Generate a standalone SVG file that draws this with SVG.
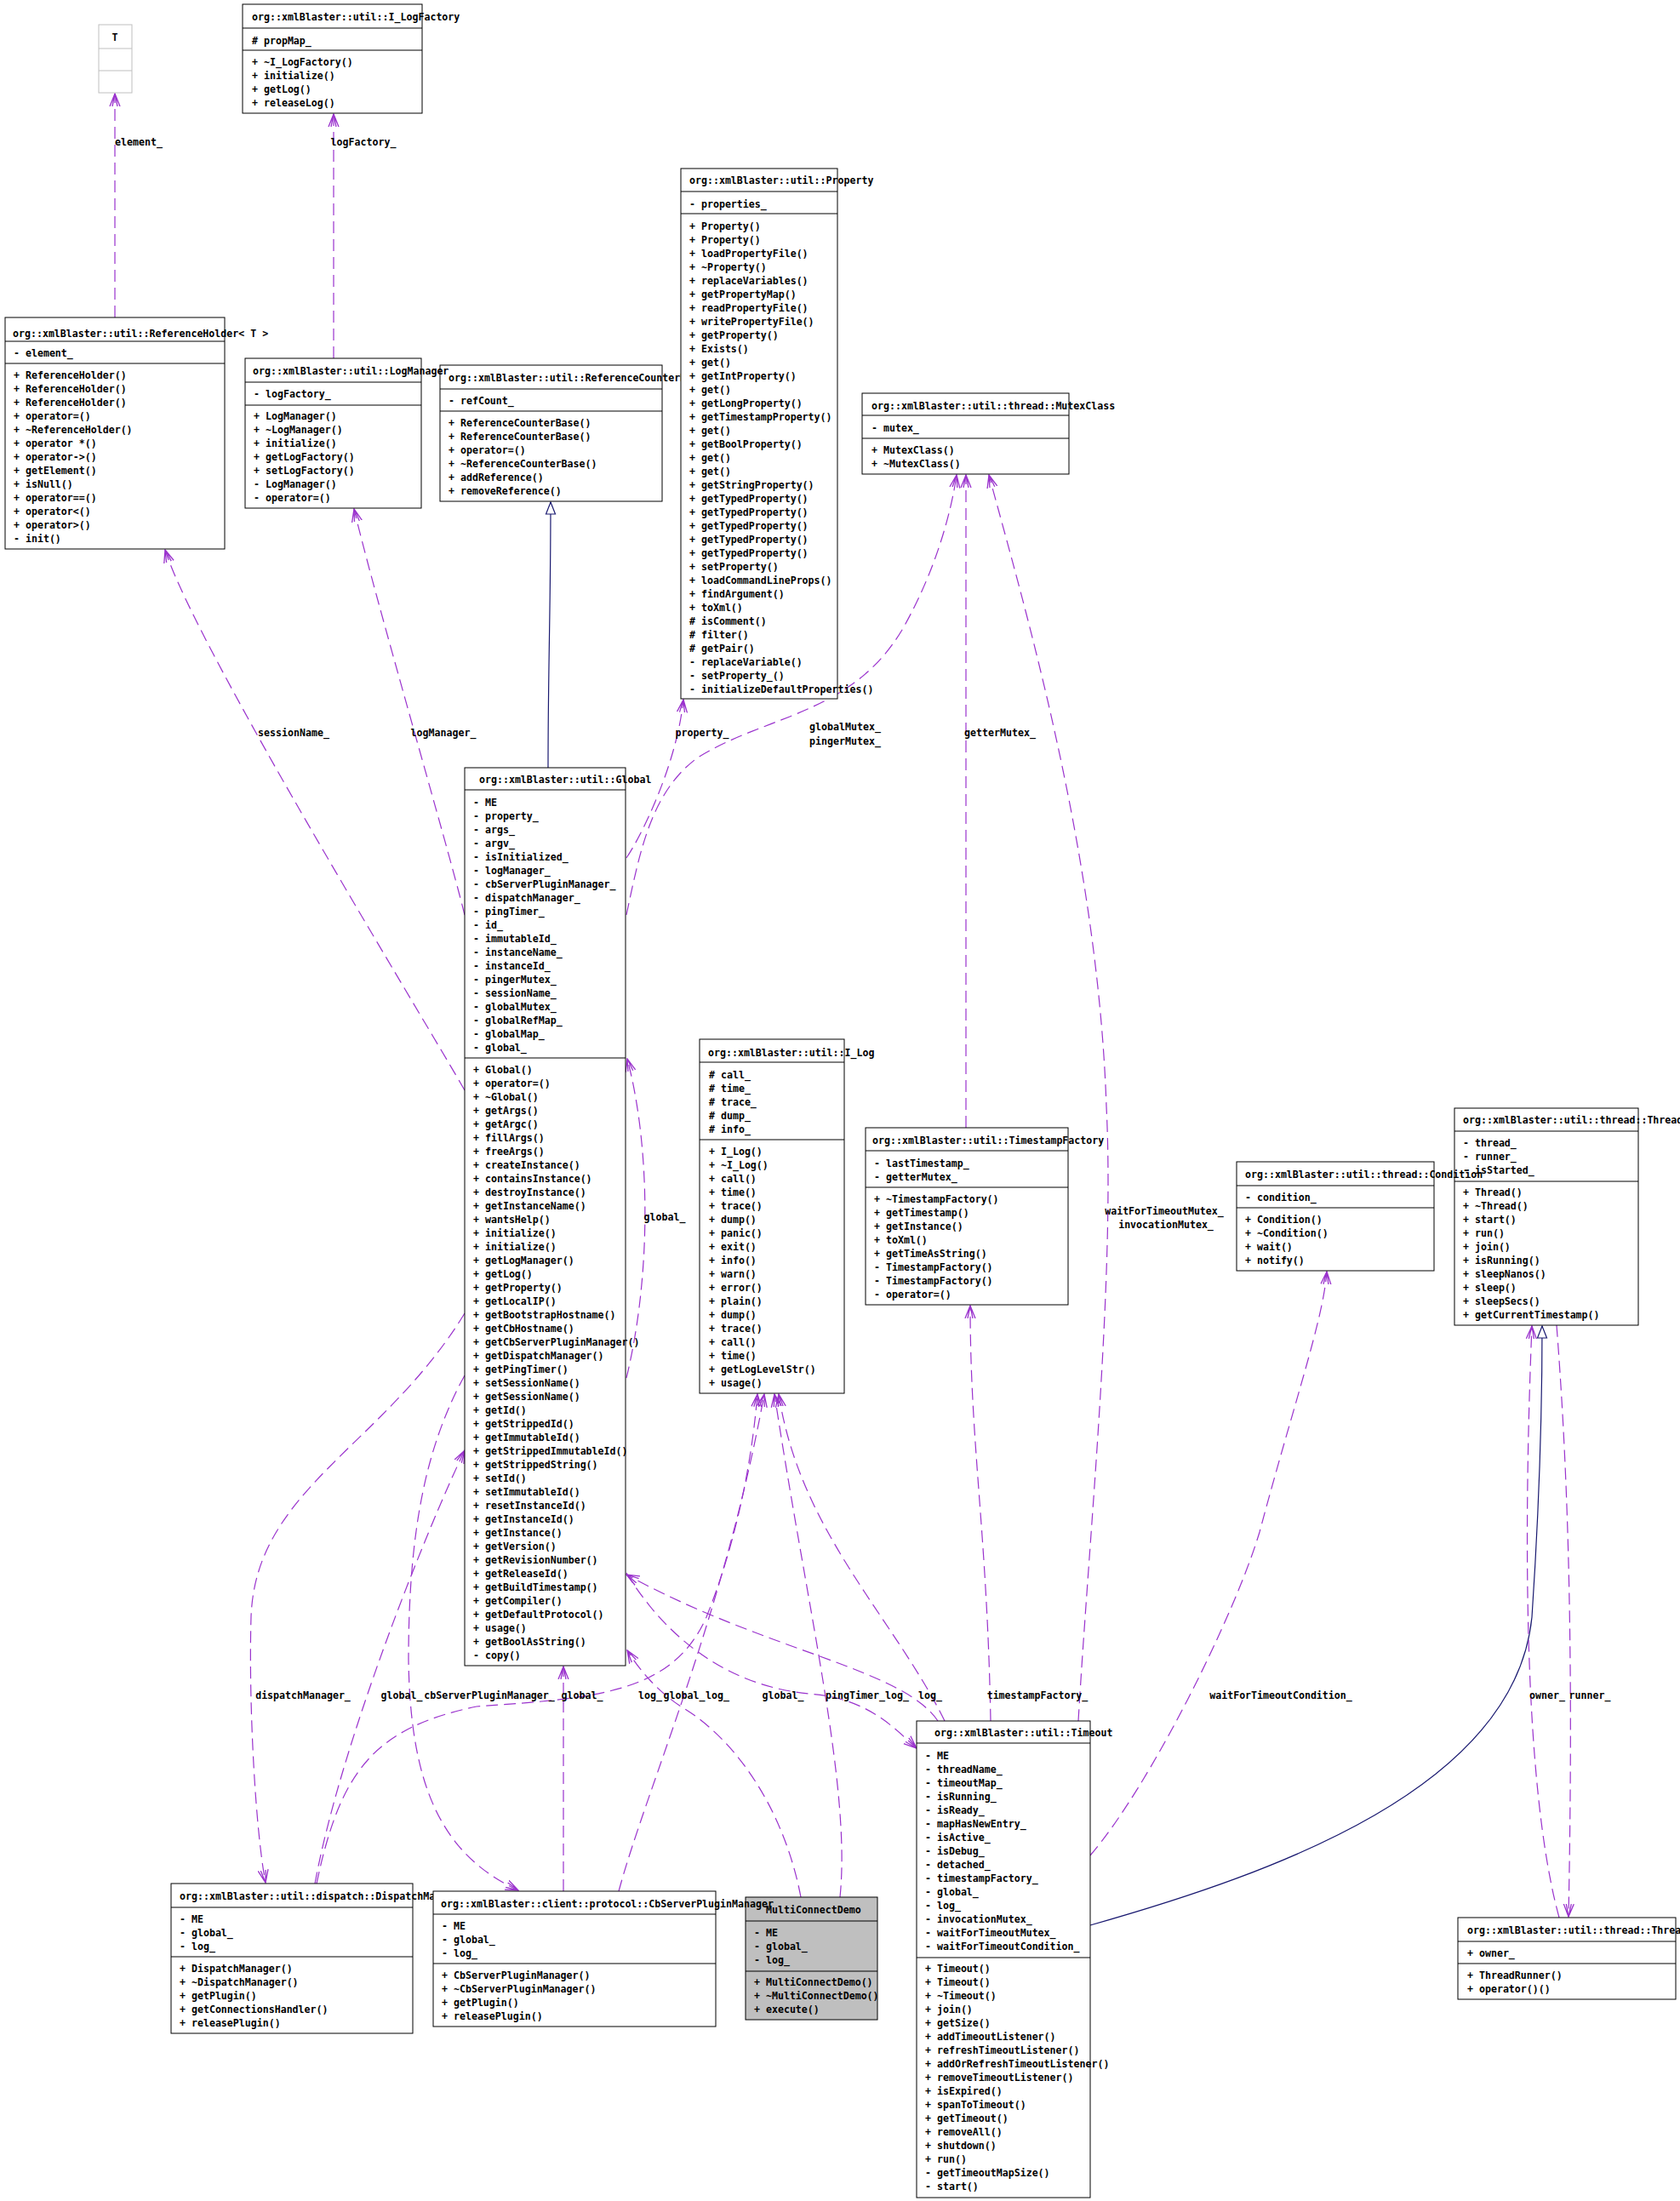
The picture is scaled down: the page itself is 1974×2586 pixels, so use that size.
<svg xmlns="http://www.w3.org/2000/svg" width="1974" height="2586" viewBox="0 0 1974 2586">
<style>
.bx{fill:#fff;stroke:#000;stroke-width:1}
.gy{fill:#bfbfbf;stroke:#000;stroke-width:1}
.ln{stroke:#000;stroke-width:1}
.t{font-family:"DejaVu Sans Mono","Liberation Mono",monospace;font-size:11.6px;font-weight:bold;fill:#000}
.lb{font-family:"DejaVu Sans Mono","Liberation Mono",monospace;font-size:11.6px;font-weight:bold;fill:#000;text-anchor:middle}
.e{fill:none;stroke:#9a32cd;stroke-width:1.2;stroke-dasharray:14,7;marker-end:url(#a)}
.i{fill:none;stroke:#191970;stroke-width:1.2;marker-end:url(#h)}
</style>
<defs>
<marker id="a" markerUnits="userSpaceOnUse" markerWidth="16" markerHeight="14" viewBox="0 0 16 14" refX="15" refY="7" orient="auto">
<path d="M0,1 L15,7 L0,13 M0,4 L15,7 L0,10" fill="none" stroke="#9a32cd" stroke-width="1.3"/>
</marker>
<marker id="h" markerUnits="userSpaceOnUse" markerWidth="16" markerHeight="14" viewBox="0 0 16 14" refX="15" refY="7" orient="auto">
<path d="M1,1.5 L15,7 L1,12.5 Z" fill="#fff" stroke="#191970" stroke-width="1.2"/>
</marker>
</defs>
<rect width="1974" height="2586" fill="#fff"/>

<g id="connectors">
<path class="e" d="M135,373 L135,110"/>
<path class="e" d="M392,421 L392,134"/>
<path class="i" d="M644,902 C644,780 647,720 647,590"/>
<path class="e" d="M546,1281 C500,1200 230,760 194,646"/>
<path class="e" d="M546,1075 C525,990 440,700 416,598"/>
<path class="e" d="M736,1008 C752,985 795,900 803,822"/>
<path class="e" d="M736,1075 C752,1000 765,930 820,890 C900,840 1000,840 1060,740 C1100,670 1118,600 1124,558"/>
<path class="e" d="M1135,1325 L1135,558"/>
<path class="e" d="M1267,2022 C1280,1800 1310,1500 1300,1300 C1290,1000 1200,700 1162,558"/>
<path class="e" d="M736,1619 C765,1500 765,1350 737,1244"/>
<path class="e" d="M546,1543 C450,1700 300,1750 295,1900 C292,2000 300,2150 312,2212"/>
<path class="e" d="M370,2213 C400,2050 500,1800 546,1704"/>
<path class="e" d="M546,1616 C500,1700 480,1800 480,1950 C482,2100 520,2180 609,2221"/>
<path class="e" d="M662,2222 L662,1958"/>
<path class="e" d="M372,2213 C400,2080 440,2030 560,2005 C700,1995 790,1990 830,1900 C870,1800 885,1700 890,1638"/>
<path class="e" d="M727,2222 C760,2100 850,1900 898,1638"/>
<path class="e" d="M941,2229 C920,2120 860,2040 800,2005 C770,1985 750,1960 737,1939"/>
<path class="e" d="M987,2229 C1000,2100 950,1900 910,1638"/>
<path class="e" d="M736,1848 C780,1920 850,1980 950,1990 C1020,1995 1050,2030 1077,2054"/>
<path class="e" d="M1102,2022 C1060,1960 900,1940 736,1850"/>
<path class="e" d="M1110,2022 C1050,1900 940,1800 915,1638"/>
<path class="e" d="M1164,2022 C1160,1800 1140,1700 1140,1534"/>
<path class="e" d="M1281,2180 C1350,2100 1450,1900 1480,1800 C1520,1650 1555,1550 1559,1494"/>
<path class="i" d="M1281,2262 C1500,2200 1780,2100 1800,1900 C1810,1750 1812,1650 1812,1558"/>
<path class="e" d="M1829,1557 C1840,1700 1850,1900 1843,2252"/>
<path class="e" d="M1832,2253 C1790,2100 1790,1800 1800,1558"/>
</g>

<g id="T">
<rect x="116" y="29" width="39" height="80" fill="#fff" stroke="#bfbfbf"/>
<line x1="116" y1="57" x2="155" y2="57" stroke="#bfbfbf"/>
<line x1="116" y1="83" x2="155" y2="83" stroke="#bfbfbf"/>
<text class="lb" x="135" y="48">T</text>
</g>

<g id="I_LogFactory">
<rect class="bx" x="285" y="5" width="211" height="128"/>
<line class="ln" x1="285" y1="33" x2="496" y2="33"/>
<line class="ln" x1="285" y1="59" x2="496" y2="59"/>
<text class="t" x="296" y="24">org::xmlBlaster::util::I_LogFactory</text>
<text class="t" x="296" y="52"># propMap_</text>
<text class="t" y="77"><tspan x="296">+ ~I_LogFactory()</tspan><tspan x="296" dy="16">+ initialize()</tspan><tspan x="296" dy="16">+ getLog()</tspan><tspan x="296" dy="16">+ releaseLog()</tspan></text>
</g>

<g id="ReferenceHolder">
<rect class="bx" x="6" y="373" width="258" height="272"/>
<line class="ln" x1="6" y1="401" x2="264" y2="401"/>
<line class="ln" x1="6" y1="427" x2="264" y2="427"/>
<text class="t" x="15" y="396">org::xmlBlaster::util::ReferenceHolder&lt; T &gt;</text>
<text class="t" x="16" y="419">- element_</text>
<text class="t" y="445"><tspan x="16">+ ReferenceHolder()</tspan><tspan x="16" dy="16">+ ReferenceHolder()</tspan><tspan x="16" dy="16">+ ReferenceHolder()</tspan><tspan x="16" dy="16">+ operator=()</tspan><tspan x="16" dy="16">+ ~ReferenceHolder()</tspan><tspan x="16" dy="16">+ operator *()</tspan><tspan x="16" dy="16">+ operator-&gt;()</tspan><tspan x="16" dy="16">+ getElement()</tspan><tspan x="16" dy="16">+ isNull()</tspan><tspan x="16" dy="16">+ operator==()</tspan><tspan x="16" dy="16">+ operator&lt;()</tspan><tspan x="16" dy="16">+ operator&gt;()</tspan><tspan x="16" dy="16">- init()</tspan></text>
</g>

<g id="ReferenceCounterBase">
<rect class="bx" x="517" y="429" width="261" height="160"/>
<line class="ln" x1="517" y1="457" x2="778" y2="457"/>
<line class="ln" x1="517" y1="483" x2="778" y2="483"/>
<text class="t" x="527" y="448">org::xmlBlaster::util::ReferenceCounterBase</text>
<text class="t" x="527" y="475">- refCount_</text>
<text class="t" y="501"><tspan x="527">+ ReferenceCounterBase()</tspan><tspan x="527" dy="16">+ ReferenceCounterBase()</tspan><tspan x="527" dy="16">+ operator=()</tspan><tspan x="527" dy="16">+ ~ReferenceCounterBase()</tspan><tspan x="527" dy="16">+ addReference()</tspan><tspan x="527" dy="16">+ removeReference()</tspan></text>
</g>

<g id="LogManager">
<rect class="bx" x="288" y="421" width="207" height="176"/>
<line class="ln" x1="288" y1="449" x2="495" y2="449"/>
<line class="ln" x1="288" y1="476" x2="495" y2="476"/>
<text class="t" x="297" y="440">org::xmlBlaster::util::LogManager</text>
<text class="t" x="298" y="467">- logFactory_</text>
<text class="t" y="493"><tspan x="298">+ LogManager()</tspan><tspan x="298" dy="16">+ ~LogManager()</tspan><tspan x="298" dy="16">+ initialize()</tspan><tspan x="298" dy="16">+ getLogFactory()</tspan><tspan x="298" dy="16">+ setLogFactory()</tspan><tspan x="298" dy="16">- LogManager()</tspan><tspan x="298" dy="16">- operator=()</tspan></text>
</g>

<g id="Property">
<rect class="bx" x="800" y="198" width="184" height="623"/>
<line class="ln" x1="800" y1="225" x2="984" y2="225"/>
<line class="ln" x1="800" y1="251" x2="984" y2="251"/>
<text class="t" x="810" y="216">org::xmlBlaster::util::Property</text>
<text class="t" x="810" y="244">- properties_</text>
<text class="t" y="270"><tspan x="810">+ Property()</tspan><tspan x="810" dy="16">+ Property()</tspan><tspan x="810" dy="16">+ loadPropertyFile()</tspan><tspan x="810" dy="16">+ ~Property()</tspan><tspan x="810" dy="16">+ replaceVariables()</tspan><tspan x="810" dy="16">+ getPropertyMap()</tspan><tspan x="810" dy="16">+ readPropertyFile()</tspan><tspan x="810" dy="16">+ writePropertyFile()</tspan><tspan x="810" dy="16">+ getProperty()</tspan><tspan x="810" dy="16">+ Exists()</tspan><tspan x="810" dy="16">+ get()</tspan><tspan x="810" dy="16">+ getIntProperty()</tspan><tspan x="810" dy="16">+ get()</tspan><tspan x="810" dy="16">+ getLongProperty()</tspan><tspan x="810" dy="16">+ getTimestampProperty()</tspan><tspan x="810" dy="16">+ get()</tspan><tspan x="810" dy="16">+ getBoolProperty()</tspan><tspan x="810" dy="16">+ get()</tspan><tspan x="810" dy="16">+ get()</tspan><tspan x="810" dy="16">+ getStringProperty()</tspan><tspan x="810" dy="16">+ getTypedProperty()</tspan><tspan x="810" dy="16">+ getTypedProperty()</tspan><tspan x="810" dy="16">+ getTypedProperty()</tspan><tspan x="810" dy="16">+ getTypedProperty()</tspan><tspan x="810" dy="16">+ getTypedProperty()</tspan><tspan x="810" dy="16">+ setProperty()</tspan><tspan x="810" dy="16">+ loadCommandLineProps()</tspan><tspan x="810" dy="16">+ findArgument()</tspan><tspan x="810" dy="16">+ toXml()</tspan><tspan x="810" dy="16"># isComment()</tspan><tspan x="810" dy="16"># filter()</tspan><tspan x="810" dy="16"># getPair()</tspan><tspan x="810" dy="16">- replaceVariable()</tspan><tspan x="810" dy="16">- setProperty_()</tspan><tspan x="810" dy="16">- initializeDefaultProperties()</tspan></text>
</g>

<g id="MutexClass">
<rect class="bx" x="1013" y="462" width="243" height="95"/>
<line class="ln" x1="1013" y1="488" x2="1256" y2="488"/>
<line class="ln" x1="1013" y1="515" x2="1256" y2="515"/>
<text class="t" x="1024" y="481">org::xmlBlaster::util::thread::MutexClass</text>
<text class="t" x="1024" y="507">- mutex_</text>
<text class="t" y="533"><tspan x="1024">+ MutexClass()</tspan><tspan x="1024" dy="16">+ ~MutexClass()</tspan></text>
</g>

<g id="Global">
<rect class="bx" x="546" y="902" width="189" height="1055"/>
<line class="ln" x1="546" y1="928" x2="735" y2="928"/>
<line class="ln" x1="546" y1="1243" x2="735" y2="1243"/>
<text class="t" x="563" y="920">org::xmlBlaster::util::Global</text>
<text class="t" y="947"><tspan x="556">- ME</tspan><tspan x="556" dy="16">- property_</tspan><tspan x="556" dy="16">- args_</tspan><tspan x="556" dy="16">- argv_</tspan><tspan x="556" dy="16">- isInitialized_</tspan><tspan x="556" dy="16">- logManager_</tspan><tspan x="556" dy="16">- cbServerPluginManager_</tspan><tspan x="556" dy="16">- dispatchManager_</tspan><tspan x="556" dy="16">- pingTimer_</tspan><tspan x="556" dy="16">- id_</tspan><tspan x="556" dy="16">- immutableId_</tspan><tspan x="556" dy="16">- instanceName_</tspan><tspan x="556" dy="16">- instanceId_</tspan><tspan x="556" dy="16">- pingerMutex_</tspan><tspan x="556" dy="16">- sessionName_</tspan><tspan x="556" dy="16">- globalMutex_</tspan><tspan x="556" dy="16">- globalRefMap_</tspan><tspan x="556" dy="16">- globalMap_</tspan><tspan x="556" dy="16">- global_</tspan></text>
<text class="t" y="1261"><tspan x="556">+ Global()</tspan><tspan x="556" dy="16">+ operator=()</tspan><tspan x="556" dy="16">+ ~Global()</tspan><tspan x="556" dy="16">+ getArgs()</tspan><tspan x="556" dy="16">+ getArgc()</tspan><tspan x="556" dy="16">+ fillArgs()</tspan><tspan x="556" dy="16">+ freeArgs()</tspan><tspan x="556" dy="16">+ createInstance()</tspan><tspan x="556" dy="16">+ containsInstance()</tspan><tspan x="556" dy="16">+ destroyInstance()</tspan><tspan x="556" dy="16">+ getInstanceName()</tspan><tspan x="556" dy="16">+ wantsHelp()</tspan><tspan x="556" dy="16">+ initialize()</tspan><tspan x="556" dy="16">+ initialize()</tspan><tspan x="556" dy="16">+ getLogManager()</tspan><tspan x="556" dy="16">+ getLog()</tspan><tspan x="556" dy="16">+ getProperty()</tspan><tspan x="556" dy="16">+ getLocalIP()</tspan><tspan x="556" dy="16">+ getBootstrapHostname()</tspan><tspan x="556" dy="16">+ getCbHostname()</tspan><tspan x="556" dy="16">+ getCbServerPluginManager()</tspan><tspan x="556" dy="16">+ getDispatchManager()</tspan><tspan x="556" dy="16">+ getPingTimer()</tspan><tspan x="556" dy="16">+ setSessionName()</tspan><tspan x="556" dy="16">+ getSessionName()</tspan><tspan x="556" dy="16">+ getId()</tspan><tspan x="556" dy="16">+ getStrippedId()</tspan><tspan x="556" dy="16">+ getImmutableId()</tspan><tspan x="556" dy="16">+ getStrippedImmutableId()</tspan><tspan x="556" dy="16">+ getStrippedString()</tspan><tspan x="556" dy="16">+ setId()</tspan><tspan x="556" dy="16">+ setImmutableId()</tspan><tspan x="556" dy="16">+ resetInstanceId()</tspan><tspan x="556" dy="16">+ getInstanceId()</tspan><tspan x="556" dy="16">+ getInstance()</tspan><tspan x="556" dy="16">+ getVersion()</tspan><tspan x="556" dy="16">+ getRevisionNumber()</tspan><tspan x="556" dy="16">+ getReleaseId()</tspan><tspan x="556" dy="16">+ getBuildTimestamp()</tspan><tspan x="556" dy="16">+ getCompiler()</tspan><tspan x="556" dy="16">+ getDefaultProtocol()</tspan><tspan x="556" dy="16">+ usage()</tspan><tspan x="556" dy="16">+ getBoolAsString()</tspan><tspan x="556" dy="16">- copy()</tspan></text>
</g>

<g id="I_Log">
<rect class="bx" x="822" y="1221" width="170" height="416"/>
<line class="ln" x1="822" y1="1248" x2="992" y2="1248"/>
<line class="ln" x1="822" y1="1339" x2="992" y2="1339"/>
<text class="t" x="832" y="1241">org::xmlBlaster::util::I_Log</text>
<text class="t" y="1267"><tspan x="833"># call_</tspan><tspan x="833" dy="16"># time_</tspan><tspan x="833" dy="16"># trace_</tspan><tspan x="833" dy="16"># dump_</tspan><tspan x="833" dy="16"># info_</tspan></text>
<text class="t" y="1357"><tspan x="833">+ I_Log()</tspan><tspan x="833" dy="16">+ ~I_Log()</tspan><tspan x="833" dy="16">+ call()</tspan><tspan x="833" dy="16">+ time()</tspan><tspan x="833" dy="16">+ trace()</tspan><tspan x="833" dy="16">+ dump()</tspan><tspan x="833" dy="16">+ panic()</tspan><tspan x="833" dy="16">+ exit()</tspan><tspan x="833" dy="16">+ info()</tspan><tspan x="833" dy="16">+ warn()</tspan><tspan x="833" dy="16">+ error()</tspan><tspan x="833" dy="16">+ plain()</tspan><tspan x="833" dy="16">+ dump()</tspan><tspan x="833" dy="16">+ trace()</tspan><tspan x="833" dy="16">+ call()</tspan><tspan x="833" dy="16">+ time()</tspan><tspan x="833" dy="16">+ getLogLevelStr()</tspan><tspan x="833" dy="16">+ usage()</tspan></text>
</g>

<g id="TimestampFactory">
<rect class="bx" x="1017" y="1325" width="238" height="208"/>
<line class="ln" x1="1017" y1="1352" x2="1255" y2="1352"/>
<line class="ln" x1="1017" y1="1395" x2="1255" y2="1395"/>
<text class="t" x="1025" y="1344">org::xmlBlaster::util::TimestampFactory</text>
<text class="t" y="1371"><tspan x="1027">- lastTimestamp_</tspan><tspan x="1027" dy="16">- getterMutex_</tspan></text>
<text class="t" y="1413"><tspan x="1027">+ ~TimestampFactory()</tspan><tspan x="1027" dy="16">+ getTimestamp()</tspan><tspan x="1027" dy="16">+ getInstance()</tspan><tspan x="1027" dy="16">+ toXml()</tspan><tspan x="1027" dy="16">+ getTimeAsString()</tspan><tspan x="1027" dy="16">- TimestampFactory()</tspan><tspan x="1027" dy="16">- TimestampFactory()</tspan><tspan x="1027" dy="16">- operator=()</tspan></text>
</g>

<g id="Thread">
<rect class="bx" x="1709" y="1302" width="216" height="255"/>
<line class="ln" x1="1709" y1="1329" x2="1925" y2="1329"/>
<line class="ln" x1="1709" y1="1388" x2="1925" y2="1388"/>
<text class="t" x="1719" y="1320">org::xmlBlaster::util::thread::Thread</text>
<text class="t" y="1347"><tspan x="1719">- thread_</tspan><tspan x="1719" dy="16">- runner_</tspan><tspan x="1719" dy="16">- isStarted_</tspan></text>
<text class="t" y="1405"><tspan x="1719">+ Thread()</tspan><tspan x="1719" dy="16">+ ~Thread()</tspan><tspan x="1719" dy="16">+ start()</tspan><tspan x="1719" dy="16">+ run()</tspan><tspan x="1719" dy="16">+ join()</tspan><tspan x="1719" dy="16">+ isRunning()</tspan><tspan x="1719" dy="16">+ sleepNanos()</tspan><tspan x="1719" dy="16">+ sleep()</tspan><tspan x="1719" dy="16">+ sleepSecs()</tspan><tspan x="1719" dy="16">+ getCurrentTimestamp()</tspan></text>
</g>

<g id="Condition">
<rect class="bx" x="1453" y="1365" width="232" height="128"/>
<line class="ln" x1="1453" y1="1393" x2="1685" y2="1393"/>
<line class="ln" x1="1453" y1="1419" x2="1685" y2="1419"/>
<text class="t" x="1463" y="1384">org::xmlBlaster::util::thread::Condition</text>
<text class="t" x="1463" y="1411">- condition_</text>
<text class="t" y="1437"><tspan x="1463">+ Condition()</tspan><tspan x="1463" dy="16">+ ~Condition()</tspan><tspan x="1463" dy="16">+ wait()</tspan><tspan x="1463" dy="16">+ notify()</tspan></text>
</g>

<g id="DispatchManager">
<rect class="bx" x="201" y="2213" width="284" height="176"/>
<line class="ln" x1="201" y1="2241" x2="485" y2="2241"/>
<line class="ln" x1="201" y1="2299" x2="485" y2="2299"/>
<text class="t" x="211" y="2232">org::xmlBlaster::util::dispatch::DispatchManager</text>
<text class="t" y="2259"><tspan x="211">- ME</tspan><tspan x="211" dy="16">- global_</tspan><tspan x="211" dy="16">- log_</tspan></text>
<text class="t" y="2317"><tspan x="211">+ DispatchManager()</tspan><tspan x="211" dy="16">+ ~DispatchManager()</tspan><tspan x="211" dy="16">+ getPlugin()</tspan><tspan x="211" dy="16">+ getConnectionsHandler()</tspan><tspan x="211" dy="16">+ releasePlugin()</tspan></text>
</g>

<g id="MultiConnectDemo">
<rect class="gy" x="876" y="2229" width="155" height="144"/>
<line class="ln" x1="876" y1="2257" x2="1031" y2="2257"/>
<line class="ln" x1="876" y1="2316" x2="1031" y2="2316"/>
<text class="t" x="900" y="2248">MultiConnectDemo</text>
<text class="t" y="2275"><tspan x="886">- ME</tspan><tspan x="886" dy="16">- global_</tspan><tspan x="886" dy="16">- log_</tspan></text>
<text class="t" y="2333"><tspan x="886">+ MultiConnectDemo()</tspan><tspan x="886" dy="16">+ ~MultiConnectDemo()</tspan><tspan x="886" dy="16">+ execute()</tspan></text>
</g>

<g id="CbServerPluginManager">
<rect class="bx" x="509" y="2222" width="332" height="159"/>
<line class="ln" x1="509" y1="2249" x2="841" y2="2249"/>
<line class="ln" x1="509" y1="2307" x2="841" y2="2307"/>
<text class="t" x="518" y="2241">org::xmlBlaster::client::protocol::CbServerPluginManager</text>
<text class="t" y="2267"><tspan x="519">- ME</tspan><tspan x="519" dy="16">- global_</tspan><tspan x="519" dy="16">- log_</tspan></text>
<text class="t" y="2325"><tspan x="519">+ CbServerPluginManager()</tspan><tspan x="519" dy="16">+ ~CbServerPluginManager()</tspan><tspan x="519" dy="16">+ getPlugin()</tspan><tspan x="519" dy="16">+ releasePlugin()</tspan></text>
</g>

<g id="Timeout">
<rect class="bx" x="1077" y="2022" width="204" height="560"/>
<line class="ln" x1="1077" y1="2048" x2="1281" y2="2048"/>
<line class="ln" x1="1077" y1="2300" x2="1281" y2="2300"/>
<text class="t" x="1098" y="2040">org::xmlBlaster::util::Timeout</text>
<text class="t" y="2067"><tspan x="1087">- ME</tspan><tspan x="1087" dy="16">- threadName_</tspan><tspan x="1087" dy="16">- timeoutMap_</tspan><tspan x="1087" dy="16">- isRunning_</tspan><tspan x="1087" dy="16">- isReady_</tspan><tspan x="1087" dy="16">- mapHasNewEntry_</tspan><tspan x="1087" dy="16">- isActive_</tspan><tspan x="1087" dy="16">- isDebug_</tspan><tspan x="1087" dy="16">- detached_</tspan><tspan x="1087" dy="16">- timestampFactory_</tspan><tspan x="1087" dy="16">- global_</tspan><tspan x="1087" dy="16">- log_</tspan><tspan x="1087" dy="16">- invocationMutex_</tspan><tspan x="1087" dy="16">- waitForTimeoutMutex_</tspan><tspan x="1087" dy="16">- waitForTimeoutCondition_</tspan></text>
<text class="t" y="2317"><tspan x="1087">+ Timeout()</tspan><tspan x="1087" dy="16">+ Timeout()</tspan><tspan x="1087" dy="16">+ ~Timeout()</tspan><tspan x="1087" dy="16">+ join()</tspan><tspan x="1087" dy="16">+ getSize()</tspan><tspan x="1087" dy="16">+ addTimeoutListener()</tspan><tspan x="1087" dy="16">+ refreshTimeoutListener()</tspan><tspan x="1087" dy="16">+ addOrRefreshTimeoutListener()</tspan><tspan x="1087" dy="16">+ removeTimeoutListener()</tspan><tspan x="1087" dy="16">+ isExpired()</tspan><tspan x="1087" dy="16">+ spanToTimeout()</tspan><tspan x="1087" dy="16">+ getTimeout()</tspan><tspan x="1087" dy="16">+ removeAll()</tspan><tspan x="1087" dy="16">+ shutdown()</tspan><tspan x="1087" dy="16">+ run()</tspan><tspan x="1087" dy="16">- getTimeoutMapSize()</tspan><tspan x="1087" dy="16">- start()</tspan></text>
</g>

<g id="ThreadRunner">
<rect class="bx" x="1713" y="2253" width="256" height="96"/>
<line class="ln" x1="1713" y1="2281" x2="1969" y2="2281"/>
<line class="ln" x1="1713" y1="2307" x2="1969" y2="2307"/>
<text class="t" x="1724" y="2272">org::xmlBlaster::util::thread::ThreadRunner</text>
<text class="t" x="1724" y="2299">+ owner_</text>
<text class="t" y="2325"><tspan x="1724">+ ThreadRunner()</tspan><tspan x="1724" dy="16">+ operator()()</tspan></text>
</g>

<g id="labels">
<text class="lb" x="163" y="171">element_</text>
<text class="lb" x="427" y="171">logFactory_</text>
<text class="lb" x="345" y="865">sessionName_</text>
<text class="lb" x="521" y="865">logManager_</text>
<text class="lb" x="825" y="865">property_</text>
<text class="lb" x="993" y="858">globalMutex_</text>
<text class="lb" x="993" y="875">pingerMutex_</text>
<text class="lb" x="1175" y="865">getterMutex_</text>
<text class="lb" x="781" y="1434">global_</text>
<text class="lb" x="1368" y="1427">waitForTimeoutMutex_</text>
<text class="lb" x="1370" y="1443">invocationMutex_</text>
<text class="lb" x="356" y="1996">dispatchManager_</text>
<text class="lb" x="472" y="1996">global_</text>
<text class="lb" x="575" y="1996">cbServerPluginManager_</text>
<text class="lb" x="684" y="1996">global_</text>
<text class="lb" x="764" y="1996">log_</text>
<text class="lb" x="804" y="1996">global_</text>
<text class="lb" x="843" y="1996">log_</text>
<text class="lb" x="920" y="1996">global_</text>
<text class="lb" x="1005" y="1996">pingTimer_</text>
<text class="lb" x="1054" y="1996">log_</text>
<text class="lb" x="1093" y="1996">log_</text>
<text class="lb" x="1219" y="1996">timestampFactory_</text>
<text class="lb" x="1505" y="1996">waitForTimeoutCondition_</text>
<text class="lb" x="1818" y="1996">owner_</text>
<text class="lb" x="1868" y="1996">runner_</text>
</g>
</svg>
